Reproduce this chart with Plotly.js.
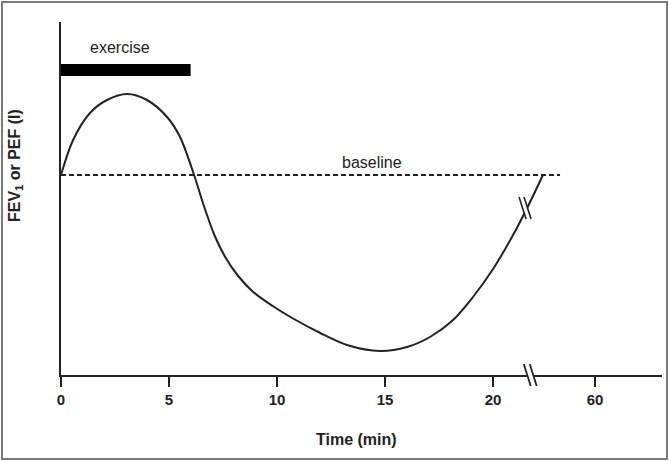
<!DOCTYPE html>
<html>
<head>
<meta charset="utf-8">
<script src="https://cdn.plot.ly/plotly-3.0.1.min.js"></script>
<style>
  html, body { margin: 0; padding: 0; background: #fff; }
  #chart { width: 669px; height: 461px; }
</style>
</head>
<body>
<div id="chart"></div>
<script>
// Lung function after exercise (schematic). Time axis is broken after 20 min;
// positions past the break are placed on a compressed scale.
const timePos = [0, 0.56, 1.34, 2.13, 3.06, 3.98, 4.91, 5.51, 6.16, 6.6, 7.1, 7.6,
                 8.2, 8.9, 9.8, 10.7, 12.0, 13.24, 14.77, 16.02, 17.08,
                 18.15, 19.07, 20.0, 20.9, 21.6, 22.31];
const lungFunction = [100, 117.5, 131, 137.5, 140.5, 137.5, 129, 119, 100, 85, 70, 59,
                      49.5, 41.5, 34.5, 28.5, 21, 15, 12, 14, 19,
                      27.5, 39, 53, 69.5, 84, 100];

const baselineValue = 100;
const baselineSpan = [0, 23.1];

const exerciseSpan = [0, 6];
const exerciseLevel = [149.5, 155.5];

const tickPositions = [0, 5, 10, 15, 20, 24.72];
const tickLabels = ['0', '5', '10', '15', '20', '60'];

const axisBreakPos = 21.72;      // where the time axis is interrupted
const curveBreak = [21.48, 83.5]; // where the curve is interrupted

const ink = '#222';
const font = 'Liberation Sans, Arial, Helvetica, sans-serif';

// x: 21.6 px per unit, y: 2 px per unit (plot area 601 x 353)
const pxX = 21.6, pxY = 2;

function slash(cx, cy, ref, offPx, color, width) {
  // short steep "\" stroke centred at (cx, cy), shifted offPx pixels sideways
  const dxTop = -3.5, dyTop = -11, dxBot = 3.5, dyBot = 11;
  return {
    type: 'line', xref: 'x', yref: ref,
    x0: cx + (dxTop + offPx) / pxX, y0: cy - dyTop / (ref === 'y' ? pxY : 353),
    x1: cx + (dxBot + offPx) / pxX, y1: cy - dyBot / (ref === 'y' ? pxY : 353),
    line: { color: color, width: width },
    layer: 'above'
  };
}

const traces = [
  {
    x: baselineSpan, y: [baselineValue, baselineValue],
    mode: 'lines', line: { color: ink, width: 2, dash: '5px,3px' },
    hoverinfo: 'skip', showlegend: false
  },
  {
    x: timePos, y: lungFunction,
    mode: 'lines', line: { color: ink, width: 2, shape: 'spline', smoothing: 0.9 },
    showlegend: false
  }
];

const shapes = [
  // exercise period
  { type: 'rect', xref: 'x', yref: 'y',
    x0: exerciseSpan[0], x1: exerciseSpan[1], y0: exerciseLevel[0], y1: exerciseLevel[1],
    fillcolor: '#000', line: { width: 0 }, layer: 'above' },
  // break on the time axis
  slash(axisBreakPos, 0, 'paper', 0, '#fff', 5),
  slash(axisBreakPos, 0, 'paper', -3, ink, 1.8),
  slash(axisBreakPos, 0, 'paper', 3, ink, 1.8),
  // break on the curve
  slash(curveBreak[0], curveBreak[1], 'y', 0, '#fff', 4),
  slash(curveBreak[0], curveBreak[1], 'y', -2.5, ink, 1.6),
  slash(curveBreak[0], curveBreak[1], 'y', 2.5, ink, 1.6),
  // outer frame
  { type: 'rect', xref: 'paper', yref: 'paper',
    x0: -0.0982, x1: 1.0083, y0: -0.238, y1: 1.0567,
    line: { color: '#7a7a7a', width: 2 }, fillcolor: 'rgba(0,0,0,0)', layer: 'above' }
];

const annotations = [
  { x: 2.73, y: 164, xref: 'x', yref: 'y', text: 'exercise', showarrow: false,
    xanchor: 'center', yanchor: 'middle',
    font: { family: font, size: 16, color: ink } },
  { x: 14.4, y: 106.5, xref: 'x', yref: 'y', text: 'baseline', showarrow: false,
    xanchor: 'center', yanchor: 'middle',
    font: { family: font, size: 16, color: ink } },
  { x: -0.0765, y: 0.592, xref: 'paper', yref: 'paper', textangle: -90,
    xanchor: 'center', yanchor: 'middle',
    text: 'FEV<sub>1</sub> or PEF (l)', showarrow: false,
    font: { family: font, size: 16, color: ink, weight: 'bold' } },
  { x: 0.4925, y: -0.184, xref: 'paper', yref: 'paper', text: 'Time (min)', showarrow: false,
    xanchor: 'center', yanchor: 'middle',
    font: { family: font, size: 16, color: ink, weight: 'bold' } }
];

const layout = {
  width: 669, height: 461,
  margin: { l: 61, r: 7, t: 22, b: 86, pad: 0 },
  paper_bgcolor: '#fff', plot_bgcolor: '#fff',
  xaxis: {
    range: [0, 27.82], showgrid: false, zeroline: false,
    showline: true, linecolor: ink, linewidth: 2,
    ticks: 'outside', ticklen: 10, tickwidth: 2, tickcolor: ink,
    tickmode: 'array', tickvals: tickPositions, ticktext: tickLabels,
    tickfont: { family: font, size: 15, color: ink, weight: 'bold' },
    fixedrange: true
  },
  yaxis: {
    range: [0, 176.5], showgrid: false, zeroline: false,
    showline: true, linecolor: ink, linewidth: 2,
    showticklabels: false, ticks: '',
    fixedrange: true
  },
  shapes: shapes,
  annotations: annotations,
  showlegend: false
};

Plotly.newPlot('chart', traces, layout, { staticPlot: true });
</script>
</body>
</html>
